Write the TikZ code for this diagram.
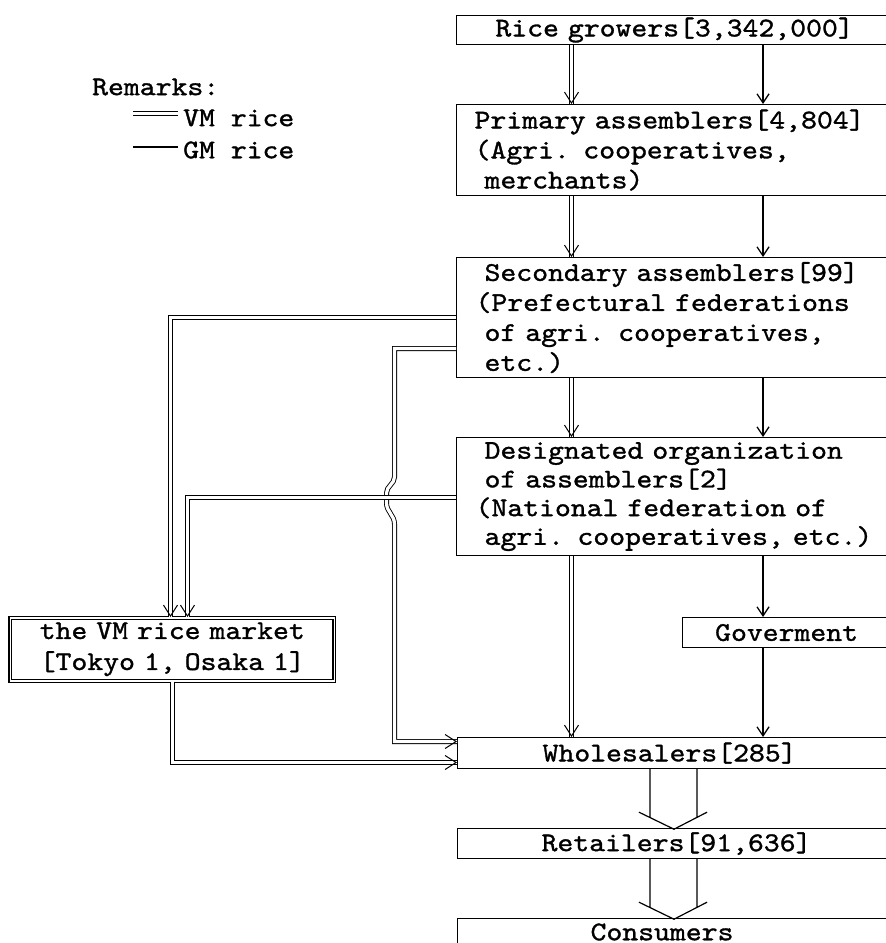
\documentclass[tikz,border=0pt]{standalone}
\usepackage{fontspec}
\newfontfamily\tfont{lmmono10-regular.otf}[FakeStretch=1.12,FakeBold=1.2]
\usetikzlibrary{arrows.meta,decorations.markings}
\tikzset{
  txt/.style={font=\tfont\fontsize{27}{30}\selectfont, inner sep=0pt},
  box/.style={txt, draw, line width=1.2pt, anchor=north west, inner xsep=19pt, inner ysep=0pt},
  vm/.style={draw=white, line width=3.2pt, preaction={draw=black, line width=5pt}},
  vmtip/.style={postaction={decorate}, decoration={markings, mark=at position 1 with {\arrow[line width=1pt]{Straight Barb[length=11pt,width=14pt]}}}},
  gm/.style={draw, line width=1.3pt, -{Straight Barb[length=9pt,width=12pt]}},
  wide/.pic={\draw[line width=1.2pt] (-24,0) -- (-24,48) (23,0) -- (23,48) (-35,43) -- (0,60) -- (33,43);}
}
\newcommand\vmline[1]{\path[vm] #1; \path[vmtip] #1;}
\begin{document}
\begin{tikzpicture}[x=1pt,y=-1pt]
\useasboundingbox (0,0) rectangle (886,943);
\clip (0,0) rectangle (886,943);
% legend
\node[txt, anchor=west] (rem) at (92,87) {Remarks:};
\node[txt, anchor=west] (vmt) at (183,118) {VM rice};
\node[txt, anchor=west] (gmt) at (183,150) {GM rice};
\coordinate (lgv) at (133,113.5);
\coordinate (lgg) at (133,147);
\path[vm] (lgv) -- ([xshift=-5pt]lgv -| vmt.west);
\draw[line width=1.3pt] (lgg) -- ([xshift=-5pt]lgg -| gmt.west);
% boxes
\node[box, minimum width=436pt, minimum height=29pt, text width=398pt, align=center] (rice) at (456,15) {Rice growers[3,342,000]};
\node[box, minimum width=458pt, minimum height=91pt, inner xsep=18pt, text width=422pt, align=left] (prim) at (456,104)
  {Primary assemblers[4,804]\\(Agri. cooperatives,\\\hspace*{10pt}merchants)};
\node[box, minimum width=458pt, minimum height=120pt, text width=420pt, align=left] (sec) at (456,257)
  {~Secondary assemblers[99]\\(Prefectural federations\\~of agri. cooperatives,\\~etc.)};
\node[box, minimum width=458pt, minimum height=118pt, text width=420pt, align=left, font=\tfont\fontsize{27}{28.7}\selectfont] (des) at (456,437)
  {~Designated organization\\~of assemblers[2]\\(National federation of\\~agri. cooperatives, etc.)};
\node[box, minimum width=208pt, minimum height=30pt, text width=170pt, align=center] (gov) at (682,617) {Goverment};
\node[box, minimum width=324pt, minimum height=63pt, inner xsep=17pt, text width=290pt, align=center, font=\tfont\fontsize{27}{31}\selectfont, preaction={draw=black, line width=4pt}, draw=white, line width=1.6pt] (mk) at (9.5,617)
  {the VM rice market\\{[}Tokyo 1, Osaka 1]};
\node[box, minimum width=457pt, minimum height=31pt, inner xsep=20pt, text width=417pt, align=left] (ws) at (457,737) {\hspace*{65pt}Wholesalers[285]};
\node[box, minimum width=457pt, minimum height=30pt, inner xsep=20pt, text width=417pt, align=left] (ret) at (457,828) {\hspace*{64pt}Retailers[91,636]};
\node[box, minimum width=457pt, minimum height=50pt, text depth=23.5pt, inner xsep=20pt, text width=417pt, align=left] (con) at (457,918) {\hspace*{113pt}Consumers};
% helper coordinates
\coordinate (xA) at (170.5,0);
\coordinate (xB) at (187.5,0);
\coordinate (xC) at (394.5,0);
\coordinate (xD) at (571.5,0);
\coordinate (xE) at (763,0);
\coordinate (wx) at (674,0);
\coordinate (yA) at (0,317.5);
\coordinate (yB) at (0,348.5);
\coordinate (yC) at (0,497.5);
\coordinate (yD) at (0,741.5);
\coordinate (yE) at (0,762.5);
\coordinate (b1) at (394.5,477);
\coordinate (b2) at (386.5,493);
\coordinate (b3) at (386.5,503);
\coordinate (b4) at (394.5,524);
% VM rice (double)
\vmline{(rice.south -| xD) -- (prim.north -| xD)}
\vmline{(prim.south -| xD) -- (sec.north -| xD)}
\vmline{(sec.south -| xD) -- (des.north -| xD)}
\vmline{(des.south -| xD) -- (ws.north -| xD)}
\vmline{(sec.west |- yA) -| (mk.north -| xA)}
\vmline{(sec.west |- yB) -| (b1) to[out=-90,in=90] (b2) -- (b3) to[out=-90,in=90] (b4) -- (xC |- yD) -- (ws.west |- yD)}
\vmline{(des.west |- yC) -| (mk.north -| xB)}
\vmline{(mk.south) -- (mk.south |- yE) -- (ws.west |- yE)}
% GM rice (single)
\draw[gm] (rice.south -| xE) -- (prim.north -| xE);
\draw[gm] (prim.south -| xE) -- (sec.north -| xE);
\draw[gm] (sec.south -| xE) -- (des.north -| xE);
\draw[gm] (des.south -| xE) -- (gov.north -| xE);
\draw[gm] (gov.south -| xE) -- (ws.north -| xE);
% both kinds
\pic at (ws.south -| wx) {wide};
\pic at (ret.south -| wx) {wide};
\end{tikzpicture}
\end{document}
